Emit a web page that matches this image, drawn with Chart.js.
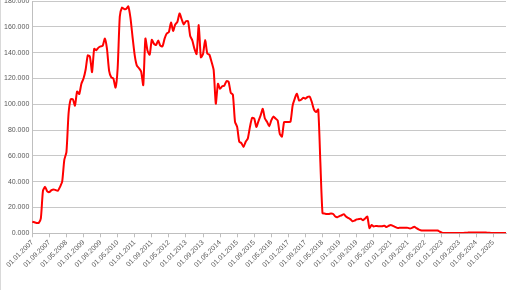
<!DOCTYPE html>
<html>
<head>
<meta charset="utf-8">
<script src="https://cdn.jsdelivr.net/npm/chart.js"></script>
<style>
    html, body { margin: 0; padding: 0; background: #fff; overflow: hidden; }
    #wrap { position: absolute; left: 0; top: -6px; width: 516px; height: 296px; border-left: 1px solid #d9d9d9; box-sizing: border-box; }
</style>
</head>
<body>
<div id="wrap"><canvas id="chart"></canvas></div>
<script>
// monthly values, Jan 2007 .. Jul 2025
const values = [
    9, 8.5, 8, 8, 11.5, 33, 36, 32.5, 32, 33.5, 34, 33.5,
    33, 36, 40, 57, 63, 93, 104, 104, 99, 110, 108, 116,
    120, 127, 138, 137, 125, 143, 142, 144, 145, 145.5, 151, 143,
    126, 121, 120, 113, 128, 168, 175, 174, 174, 176, 167, 152,
    138, 130, 128, 125.5, 115, 151, 141.5, 138.5, 150, 147, 146, 149.5,
    145.5, 145, 151, 155, 156, 163.5, 157, 162, 164, 170.5, 166, 162,
    164.5, 164.5, 153, 149.5, 143, 139, 161.5, 136.5, 139, 150, 139.5, 138.5,
    133, 126.5, 100.5, 116, 112, 114, 114.5, 118, 117.5, 109, 107.5, 86.5,
    82.5, 71, 70, 67, 71, 73.5, 82.5, 89.5, 89, 82.5, 87, 91.5,
    96.5, 89, 86.5, 83, 87.5, 90.5, 89, 87.5, 77, 75, 86.3, 86.3,
    86.3, 86.5, 99, 104.5, 108.3, 103, 103.6, 105.2, 104.4, 105.7, 106, 101.8,
    96, 94, 96, 55, 15.6, 15.3, 15, 15, 15.3, 15, 13, 12.5,
    13.3, 14, 14.8, 13, 12, 11, 9.3, 9.8, 10.8, 11, 11.2, 10.2,
    11.5, 13, 4, 6.5, 5.3, 5.7, 5.5, 5.5, 5.5, 5.8, 4.8, 5.8,
    6.5, 5.8, 5, 4.2, 4.2, 4.2, 4.2, 4.2, 4.2, 3.7, 4.2, 5,
    4, 3, 2.4, 2.2, 2.2, 2.2, 2.2, 2.2, 2.2, 2.2, 2.2, 1.2,
    0.5, 0.3, 0.3, 0.3, 0.3, 0.3, 0.3, 0.3, 0.3, 0.3, 0.3, 0.4,
    0.5, 0.6, 0.6, 0.6, 0.6, 0.6, 0.6, 0.6, 0.6, 0.5, 0.4, 0.3,
    0.3, 0.3, 0.3, 0.3, 0.3, 0.3, 0.3
];

const startYear = 2007;
const labelEvery = 8;   // one date label every 8 months
const yTicks = [0, 20, 40, 60, 80, 100, 120, 140, 160, 180];

const labels = values.map((v, i) => {
    const m = i % 12 + 1;
    const y = startYear + Math.floor(i / 12);
    return '01.' + (m < 10 ? '0' + m : m) + '.' + y;
});

const axisFont = { family: 'Liberation Sans', size: 7 };

new Chart(document.getElementById('chart'), {
    type: 'line',
    data: {
        labels: labels,
        datasets: [{
            data: values,
            borderColor: '#ff0000',
            borderWidth: 2,
            pointRadius: 0,
            tension: 0.2,
            fill: false
        }]
    },
    options: {
        responsive: true,
        maintainAspectRatio: false,
        animation: false,
        layout: { padding: { left: 0, right: 10, top: 0, bottom: 20 } },
        plugins: {
            legend: { display: false },
            tooltip: { enabled: false }
        },
        scales: {
            x: {
                grid: {
                    drawOnChartArea: false,
                    drawTicks: true,
                    tickLength: 4,
                    color: '#bfbfbf'
                },
                border: { color: '#bfbfbf' },
                ticks: {
                    autoSkip: false,
                    minRotation: 45,
                    maxRotation: 45,
                    padding: 1,
                    color: '#595959',
                    font: axisFont,
                    callback: function (val, i) {
                        return i % labelEvery === 0 ? labels[i] : null;
                    }
                }
            },
            y: {
                min: yTicks[0],
                max: yTicks[yTicks.length - 1],
                grid: { color: '#c8c8c8', drawTicks: false },
                border: { color: '#bfbfbf' },
                afterBuildTicks: axis => { axis.ticks = yTicks.map(v => ({ value: v })); },
                ticks: {
                    padding: 3,
                    color: '#595959',
                    font: axisFont,
                    callback: v => v.toFixed(3)
                }
            }
        }
    }
});
</script>
</body>
</html>
